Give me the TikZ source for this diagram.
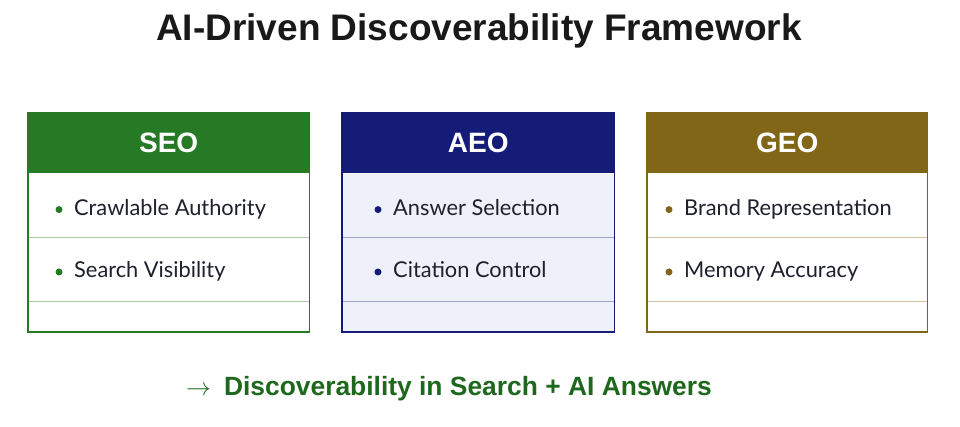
\documentclass[tikz,border=0pt]{standalone}
\usepackage{fontspec}
\setmainfont{Liberation Sans}
\newfontfamily\itemfont{Lato}
\usetikzlibrary{positioning}
\definecolor{seogreen}{RGB}{38,122,38}
\definecolor{aeonavy}{RGB}{21,28,120}
\definecolor{geoolive}{RGB}{128,102,22}
\definecolor{aeopale}{RGB}{238,241,249}
\definecolor{inktext}{RGB}{30,32,44}
\definecolor{outgreen}{RGB}{30,104,30}
\tikzstyle{head}=[inner sep=0pt,minimum height=60pt,text=white,font=\bfseries\fontsize{28}{30}\selectfont]
\tikzstyle{row}=[inner sep=0pt]
\tikzstyle{item}=[inner sep=0pt,anchor=base west,text=inktext,font=\itemfont\fontsize{21.8}{24}\selectfont]

\begin{document}
\begin{tikzpicture}[x=1pt,y=-1pt]
	\fill[white] (0,0) rectangle (960,427);
	\useasboundingbox (0,0) rectangle (960,427);
	\node[inner sep=0pt,text=black!90,font=\bfseries\fontsize{37}{40}\selectfont] (title) at (479,31) {AI-Driven Discoverability Framework};
	\foreach \n/\c/\x/\w/\d/\a/\b/\f in {SEO/seogreen/28/281/31/Crawlable Authority/Search Visibility/white,
		AEO/aeonavy/342/272/36/Answer Selection/Citation Control/aeopale,
		GEO/geoolive/647/280/22/Brand Representation/Memory Accuracy/white}{
		\node[head,fill=\c,minimum width=\w pt,anchor=north west] (\n) at (\x,113) {\n};
		\node[row,fill=\f,minimum width=\w pt,minimum height=64pt,below=0pt of \n] (\n-1) {};
		\node[row,fill=\f,minimum width=\w pt,minimum height=63pt,below=0pt of \n-1] (\n-2) {};
		\node[row,fill=\f,minimum width=\w pt,minimum height=30pt,below=0pt of \n-2] (\n-3) {};
		\draw[\c!40,line width=1pt] (\n-1.south west) -- (\n-1.south east)
			(\n-2.south west) -- (\n-2.south east);
		\draw[\c,line width=1.8pt] (\n.north west) rectangle (\n-3.south east);
		\fill[\c] ([xshift=\d pt,yshift=-4pt]\n-1.west) circle (3.5pt);
		\fill[\c] ([xshift=\d pt,yshift=-2.5pt]\n-2.west) circle (3.5pt);
		\node[item] (\n-a) at ([xshift=\d pt+15pt,yshift=-10pt]\n-1.west) {\a};
		\node[item] (\n-b) at ([xshift=\d pt+15pt,yshift=-8.5pt]\n-2.west) {\b};
	}
	\node[inner sep=0pt,text=outgreen,font=\bfseries\fontsize{26.4}{30}\selectfont] (result) at (449,389) {{\fontsize{28}{30}\selectfont$\rightarrow$}\hspace{13pt}Discoverability in Search + AI Answers};
\end{tikzpicture}
\end{document}
